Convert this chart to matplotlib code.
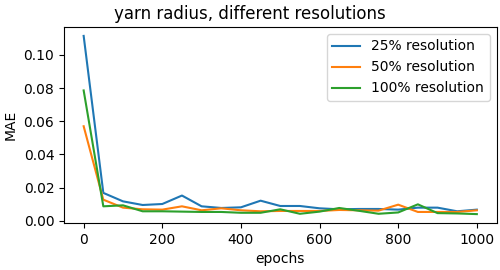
import matplotlib
matplotlib.use("Agg")
import matplotlib.pyplot as plt

epochs = list(range(0, 1001, 50))
res25 = [0.1115, 0.0168, 0.0117, 0.0095, 0.0101, 0.0152, 0.0087, 0.0077, 0.0081, 0.0121,
         0.0089, 0.0089, 0.0075, 0.0069, 0.0071, 0.0071, 0.0067, 0.0079, 0.0079, 0.0057, 0.0067]
res50 = [0.057, 0.0127, 0.0079, 0.0069, 0.0067, 0.0087, 0.0063, 0.0075, 0.0063, 0.0057,
         0.0059, 0.0059, 0.0059, 0.0065, 0.0063, 0.0061, 0.0097, 0.0053, 0.0053, 0.0053, 0.0063]
res100 = [0.0786, 0.0087, 0.0093, 0.0057, 0.0057, 0.0055, 0.0053, 0.0053, 0.0048, 0.0048,
          0.0069, 0.0042, 0.0055, 0.0077, 0.0060, 0.0042, 0.0050, 0.0099, 0.0046, 0.0044, 0.0040]
labels = ["25% resolution", "50% resolution", "100% resolution"]

fig, ax = plt.subplots(figsize=(5, 2.7), dpi=100)
fig.subplots_adjust(left=0.128, right=0.993, top=0.9, bottom=0.174)
ax.plot(epochs, res25, label=labels[0])
ax.plot(epochs, res50, label=labels[1])
ax.plot(epochs, res100, label=labels[2])
ax.set_xlabel("epochs")
ax.set_ylabel("MAE")
ax.legend(loc="upper right")
fig.suptitle("yarn radius, different resolutions")
fig.savefig("out.png")
